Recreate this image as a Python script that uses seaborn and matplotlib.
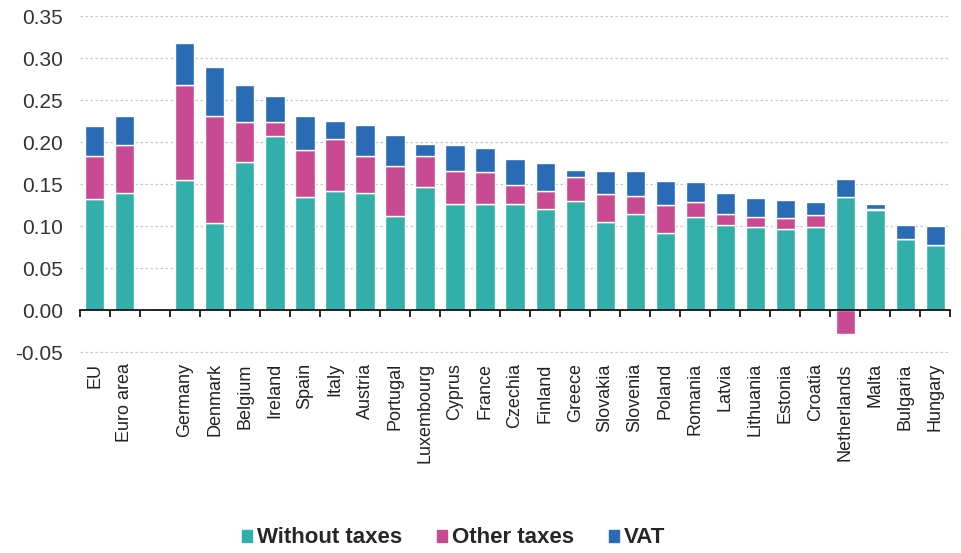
import numpy as np
import pandas as pd
import matplotlib
matplotlib.use('Agg')
import matplotlib.pyplot as plt
from matplotlib.ticker import MultipleLocator
from matplotlib.patches import Patch
import seaborn as sns

# Data (EUR/kWh); blank slot separates aggregates from countries
countries = ['EU', 'Euro area', ' ', 'Germany', 'Denmark', 'Belgium', 'Ireland', 'Spain',
             'Italy', 'Austria', 'Portugal', 'Luxembourg', 'Cyprus', 'France', 'Czechia',
             'Finland', 'Greece', 'Slovakia', 'Slovenia', 'Poland', 'Romania', 'Latvia',
             'Lithuania', 'Estonia', 'Croatia', 'Netherlands', 'Malta', 'Bulgaria', 'Hungary']
without_taxes = [0.133, 0.140, 0.0, 0.155, 0.104, 0.176, 0.207, 0.135,
                 0.142, 0.140, 0.112, 0.147, 0.127, 0.126, 0.127,
                 0.120, 0.130, 0.105, 0.114, 0.092, 0.111, 0.101,
                 0.099, 0.097, 0.099, 0.135, 0.119, 0.085, 0.078]
other_taxes = [0.051, 0.057, 0.0, 0.113, 0.127, 0.048, 0.017, 0.056,
               0.062, 0.044, 0.060, 0.036, 0.039, 0.039, 0.022,
               0.022, 0.029, 0.033, 0.022, 0.033, 0.018, 0.014,
               0.012, 0.013, 0.014, -0.0285, 0.002, 0.0, 0.0]
vat = [0.035, 0.034, 0.0, 0.050, 0.058, 0.044, 0.031, 0.040,
       0.021, 0.036, 0.036, 0.015, 0.031, 0.028, 0.031,
       0.033, 0.008, 0.028, 0.030, 0.029, 0.024, 0.025,
       0.023, 0.021, 0.016, 0.021, 0.006, 0.016, 0.022]

df = pd.DataFrame({'country': countries, 'without': without_taxes,
                   'other': other_taxes, 'vat': vat})

# stacking: negative "other taxes" hangs below zero, VAT sits on the positive part
wo = df['without'].values
ot = df['other'].values
other_bottom = np.where(ot < 0, 0, wo)
vat_bottom = wo + np.clip(ot, 0, None)

c_teal = '#33afab'
c_pink = '#c84a93'
c_blue = '#2a6bb5'

sns.set_style('white')
plt.rcParams['font.family'] = ['Liberation Sans', 'DejaVu Sans']

fig = plt.figure(figsize=(9.61, 5.53), dpi=100)
ax = fig.add_axes([0.083, 0.362, 0.906, 0.609])

sns.barplot(data=df, x='country', y='without', order=countries, color=c_teal,
            width=0.64, saturation=1, ax=ax, zorder=3)
sns.barplot(data=df, x='country', y='other', order=countries, color=c_pink,
            width=0.64, saturation=1, bottom=other_bottom, ax=ax, zorder=3)
sns.barplot(data=df, x='country', y='vat', order=countries, color=c_blue,
            width=0.64, saturation=1, bottom=vat_bottom, ax=ax, zorder=3)

ax.set_ylim(-0.0505, 0.35)
ax.set_xlim(-0.5, len(countries) - 0.5)
ax.yaxis.set_major_locator(MultipleLocator(0.05))
ax.set_yticklabels([f'{v:.2f}' for v in ax.get_yticks()])
ax.yaxis.grid(True, linestyle=(0, (2, 2)), color='#c8c8c8', linewidth=0.9, zorder=0)
ax.set_xlabel('')
ax.set_ylabel('')

for s in ['left', 'top', 'right']:
    ax.spines[s].set_visible(False)
ax.spines['bottom'].set_position(('data', 0))
ax.spines['bottom'].set_color('black')
ax.spines['bottom'].set_linewidth(1.2)
ax.spines['bottom'].set_zorder(4)

ax.tick_params(axis='y', length=0, labelsize=15, pad=12, labelcolor='#333333')
ax.tick_params(axis='x', which='major', bottom=True, length=0, labelsize=13, pad=38,
               labelrotation=90, labelcolor='#222222')
ax.set_xticks(np.arange(-0.5, len(countries) - 0.4, 1), minor=True)
ax.tick_params(axis='x', which='minor', bottom=True, length=5, width=1.2,
               direction='out', color='black')

handles = [Patch(color=c_teal, label='Without taxes'),
           Patch(color=c_pink, label='Other taxes'),
           Patch(color=c_blue, label='VAT')]
fig.legend(handles=handles, loc='lower center', bbox_to_anchor=(0.472, -0.028), ncol=3,
           frameon=False, prop={'weight': 'bold', 'size': 16},
           handlelength=0.45, handleheight=0.45, handletextpad=0.2, columnspacing=1.6)

fig.savefig('out.png', dpi=100)
